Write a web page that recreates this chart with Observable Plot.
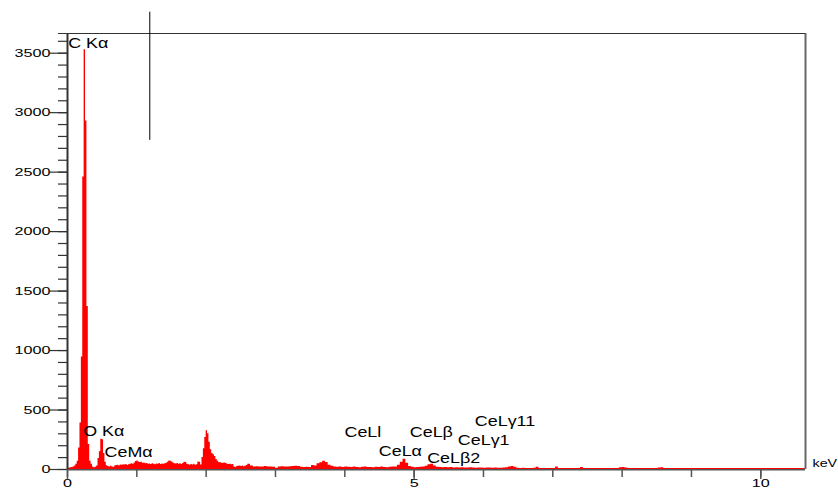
<!DOCTYPE html>
<html>
<head>
<meta charset="utf-8">
<script src="https://cdn.jsdelivr.net/npm/d3@7"></script>
<script src="https://cdn.jsdelivr.net/npm/@observablehq/plot@0.6"></script>
<style>
  body { margin: 0; background: #fff; }
  #chart svg { overflow: visible; }
</style>
</head>
<body>
<div id="chart"></div>
<script>
// EDS spectrum of a Ce/O/C sample: counts per channel against energy (keV).

// Low-energy channels, 0.02 keV wide, starting at 0 keV
const fineStart = 0;
const fineStep = 0.02;
const fineCounts = [
  8, 12, 14, 16, 22, 30, 45, 70, 180, 390,
  946, 2460, 3530, 2930, 1370, 210, 70, 45, 22, 15,
  18, 30, 92, 150, 255, 250, 135, 60, 32, 26,
  22, 28, 20, 18, 30, 33, 36, 30, 38, 35,
  40, 38, 43, 34, 40, 45, 48, 44, 55, 68,
  72, 64, 58, 60, 52, 55, 48, 50, 44, 46,
  42, 48, 45, 40, 47, 44, 50, 42, 46, 44,
  48, 52, 60, 72, 70, 64, 55, 48, 46, 50,
  44, 48, 42, 50, 62, 58, 45, 40, 36, 42,
  38, 44, 36, 40, 64, 60, 38, 100, 175, 270,
  325, 300, 230, 165, 135, 125, 110, 85, 70, 58,
  56, 53, 52, 54, 50, 44, 42, 45, 40, 42,
  22, 17, 26, 28, 30, 26, 30, 24, 28, 34
];

// Higher-energy channels, 0.04 keV wide, from 2.6 keV to 10.64 keV
const coarseStart = 2.6;
const coarseStep = 0.04;
const coarseCounts = [
  45, 30, 22, 24, 20, 22, 26, 20, 22, 18, 10, 22, 24, 20, 22, 24, 26, 28, 26, 18, 16, 18, 17, 34, 30,
  48, 56, 70, 58, 36, 28, 22, 18, 20, 17, 22, 18, 16, 20, 17, 15, 18, 20, 16, 17, 14, 18, 16, 20, 17,
  15, 18, 20, 22, 35, 60, 86, 52, 26, 18, 15, 16, 18, 20, 28, 40, 45, 30, 18, 16, 15, 17, 14, 16, 13,
  14, 12, 15, 13, 12, 14, 12, 11, 13, 12, 10, 12, 13, 11, 12, 10, 11, 12, 14, 22, 26, 18, 10, 9, 10,
  9, 8, 9, 10, 18, 8, 9, 8, 9, 8, 9, 20, 8, 9, 8, 9, 8, 9, 8, 9, 17, 8, 9, 8, 9,
  8, 9, 8, 8, 9, 8, 9, 8, 8, 14, 16, 13, 8, 9, 8, 8, 9, 8, 8, 9, 8, 8, 9, 13, 14,
  8, 9, 8, 8, 9, 8, 8, 9, 8, 8, 9, 8, 8, 8, 9, 8, 8, 9, 8, 8, 8, 9, 8, 8, 8,
  8, 8, 9, 8, 8, 8, 9, 8, 8, 8, 8, 9, 8, 8, 8, 8, 9, 8, 8, 8, 8, 9, 8, 8, 8,
  8
];

// Line identifications: label, energy where the label starts, count level of its centre
const peakNames  = ["C K\u03b1", "O K\u03b1", "CeM\u03b1", "CeLl", "CeL\u03b1", "CeL\u03b2", "CeL\u03b22", "CeL\u03b31", "CeL\u03b311"];
const peakKeV    = [0.01, 0.226, 0.534, 3.995, 4.49, 4.937, 5.188, 5.63, 5.875];
const peakCounts = [3579, 319, 145, 314, 154, 314, 90, 244, 406];

// Axes
const xMax = 10.645;
const yMax = 3665.6;
const yMajorTicks = [0, 500, 1000, 1500, 2000, 2500, 3000, 3500];
const yMinorTicks = d3.range(0, 3700, 100);
const xTicks = [0, 1, 2, 3, 4, 5, 6, 7, 8, 9, 10];
const xLabeledTicks = [0, 5, 10];
const unitLabel = "keV";

// Energy cursor
const cursorKeV = 1.187;
const cursorSpan = [2767, 3845];

// Channel table for the stepped spectrum
const rows = [
  ...fineCounts.map((c, i) => ({ e: fineStart + i * fineStep, c })),
  ...coarseCounts.map((c, i) => ({ e: coarseStart + i * coarseStep, c }))
];
rows.push({ e: coarseStart + coarseCounts.length * coarseStep, c: coarseCounts[coarseCounts.length - 1] });

const peaks = peakNames.map((name, i) => ({ name, e: peakKeV[i], c: peakCounts[i] }));

const font = "'Liberation Sans', Arial, sans-serif";

const chart = Plot.plot({
  width: 838,
  height: 488,
  marginLeft: 67,
  marginRight: 33,
  marginTop: 33,
  marginBottom: 19,
  x: { domain: [0, xMax] },
  y: { domain: [0, yMax] },
  style: { fontFamily: font, background: "#fff", color: "#000" },
  marks: [
    // axis lines and frame
    Plot.ruleY([0], { x1: 0, x2: xMax, stroke: "#555", strokeWidth: 2 }),
    Plot.areaY(rows, { x: "e", y: "c", curve: "step-after", fill: "#ff0000" }),
    Plot.ruleX([0], { y1: 0, y2: yMax, stroke: "#333", strokeWidth: 2 }),
    Plot.ruleX([xMax], { y1: 0, y2: yMax, stroke: "#666", strokeWidth: 2 }),
    Plot.ruleY([yMax], { x1: -0.13, x2: xMax, stroke: "#333", strokeWidth: 1 }),
    // y ticks (minor every 100, major every 500) and their numbers
    Plot.axisY(yMinorTicks, { tickSize: 9, tickFormat: () => "", label: null, stroke: "#333", strokeWidth: 1.2 }),
    Plot.axisY(yMajorTicks, { tickSize: 17, tickFormat: () => "", label: null, stroke: "#333", strokeWidth: 1.2 }),
    Plot.text(yMajorTicks, { x: 0, y: d => d, text: d => String(d), dx: -17, textAnchor: "end", lineAnchor: "middle", fontSize: 11, fill: "#000" }),
    // x ticks every keV, numbers at 0, 5 and 10
    Plot.axisX(xTicks, { tickSize: 8, tickFormat: () => "", label: null, stroke: "#555", strokeWidth: 1.5 }),
    Plot.axisX(xLabeledTicks, { tickSize: 10, tickFormat: () => "", label: null, stroke: "#555", strokeWidth: 1.5 }),
    Plot.text(xLabeledTicks, { x: d => d, y: 0, text: d => String(d), dy: 10, textAnchor: "middle", lineAnchor: "top", fontSize: 11, fill: "#000" }),
    // energy cursor
    Plot.ruleX([cursorKeV], { y1: cursorSpan[0], y2: cursorSpan[1], stroke: "#000", strokeWidth: 1 }),
    // line labels
    Plot.text(peaks, { x: "e", y: "c", text: "name", textAnchor: "start", lineAnchor: "middle", fontSize: 14, fill: "#000" }),
    Plot.text([unitLabel], { x: 10.746, y: 50, text: d => d, textAnchor: "start", lineAnchor: "middle", fontSize: 11, fill: "#000" })
  ]
});

document.getElementById("chart").append(chart);

// The lettering is drawn wide: scale each label horizontally about its own anchor point
function widthFactor(s) {
  if (peakNames.includes(s)) return 1.28;
  if (s === unitLabel) return 1.3;
  if (/^\d+$/.test(s)) return 1.47;
  return 1;
}
chart.querySelectorAll("text").forEach(t => {
  const s = t.textContent;
  const f = widthFactor(s);
  if (!s || f === 1) return;
  const ax = parseFloat(t.getAttribute("x")) || 0;
  const base = t.getAttribute("transform") || "";
  t.setAttribute("transform", `${base} translate(${ax},0) scale(${f},1) translate(${-ax},0)`.trim());
});
</script>
</body>
</html>
